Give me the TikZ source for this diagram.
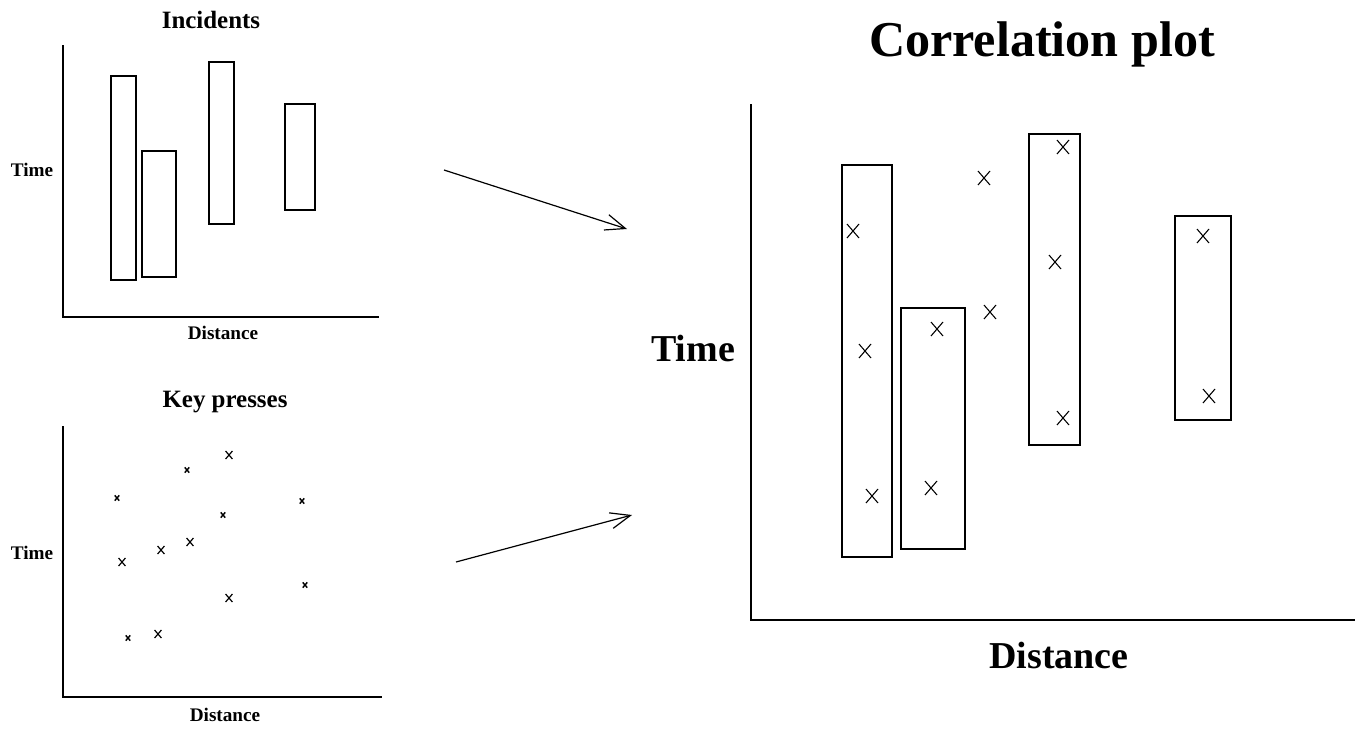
\documentclass[tikz,border=0pt]{standalone}
\usepackage{fontspec}
\setmainfont{Liberation Serif}
\usetikzlibrary{arrows.meta}
\tikzset{
  axis/.style={line width=2.2pt},
  bigaxis/.style={line width=1.8pt},
  box/.style={line width=1pt},
  lbl/.style={font=\bfseries\fontsize{14.4}{16}\selectfont},
  ttl/.style={font=\bfseries\fontsize{18.7}{21}\selectfont},
  biglbl/.style={font=\bfseries\fontsize{28.5}{32}\selectfont},
  link/.style={line width=0.9pt,-{Straight Barb[length=15pt,width=12pt,line width=0.9pt]}}
}
\newcommand{\mycross}[4]{\draw[line width=#4] (#1-#3*0.857,#2-#3) -- (#1+#3*0.857,#2+#3) (#1-#3*0.857,#2+#3) -- (#1+#3*0.857,#2-#3);}
\begin{document}
\begin{tikzpicture}[x=0.75pt,y=-0.75pt]
	\useasboundingbox (0,0) rectangle (1364,732);
	% Incidents
	\draw[axis] (63,45) -- (63,317) -- (379,317);
	\node[ttl] (tinc) at (211,20) {Incidents};
	\node[lbl] (tinct) at (32,170) {Time};
	\node[lbl] (tincd) at (223,333) {Distance};
	\draw[box] (111,76) rectangle (136,280);
	\draw[box] (142,151) rectangle (176,277);
	\draw[box] (209,62) rectangle (234,224);
	\draw[box] (285,104) rectangle (315,210);
	% Key presses
	\draw[axis] (63,426) -- (63,697) -- (382,697);
	\node[ttl] (tkey) at (225,402) {Key presses};
	\node[lbl] (tkeyt) at (32,553) {Time};
	\node[lbl] (tkeyd) at (225,715) {Distance};
	\foreach \x/\y in {117/498,187/470,223/515,302/501,305/585,128/638}
		{\mycross{\x}{\y}{2.6}{1.1pt}}
	\foreach \x/\y in {229/455,122/562,161/550,190/542,229/598,158/634}
		{\mycross{\x}{\y}{4}{0.9pt}}
	% arrows
	\coordinate (ia) at (444,170);
	\coordinate (ib) at (627,229);
	\coordinate (ka) at (456,562);
	\coordinate (kb) at (632,515);
	\draw[link] (ia) -- (ib);
	\draw[link] (ka) -- (kb);
	% Correlation plot
	\draw[bigaxis] (751,104) -- (751,620) -- (1355,620);
	\node[biglbl,font=\bfseries\fontsize{37.6}{42}\selectfont] (tcor) at (1042,44) {Correlation plot};
	\node[biglbl] (tcort) at (693,348) {Time};
	\node[biglbl] (tcord) at (1059,655) {Distance};
	\draw[box] (842,165) rectangle (892,557);
	\draw[box] (901,308) rectangle (965,549);
	\draw[box] (1029,134) rectangle (1080,445);
	\draw[box] (1175,216) rectangle (1231,420);
	\foreach \x/\y in {853/231,865/351,872/496,937/329,931/488,984/178,990/312,1063/147,1055/262,1063/418,1203/236,1209/396}
		{\mycross{\x}{\y}{7}{0.8pt}}
\end{tikzpicture}
\end{document}
